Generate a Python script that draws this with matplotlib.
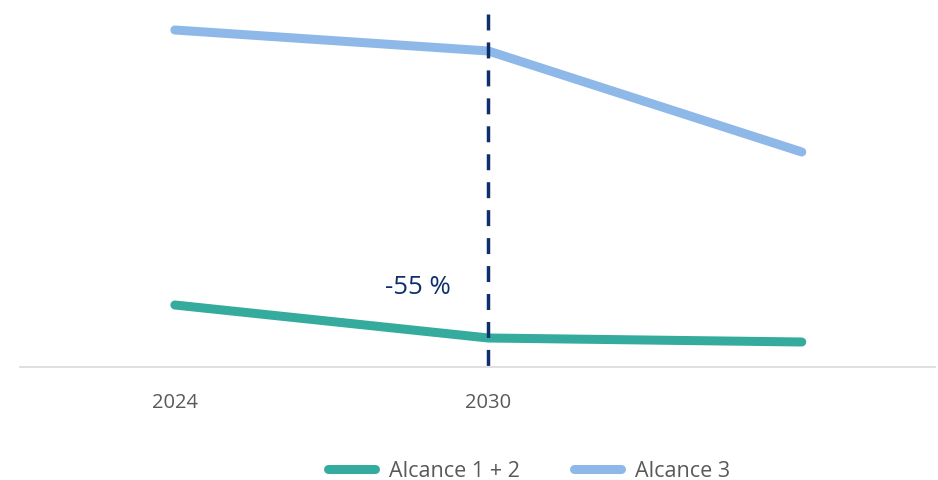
"""Emissions trajectory chart: Alcance 1 + 2 vs Alcance 3."""

import matplotlib
matplotlib.use("Agg")
import matplotlib.pyplot as plt

plt.rcParams['font.family'] = ['Open Sans', 'DejaVu Sans']

# Data (relative units)
years = ["2024", "2030", ""]
alcance_12 = [62, 29, 25]
alcance_3 = [337, 316, 215]
reduction_label = "-55 %"

TEAL = "#35AB9E"
LIGHT_BLUE = "#8DB8E8"
NAVY = "#0E2F6B"
GREY_TEXT = "#595959"

fig = plt.figure(figsize=(9.38, 4.81), dpi=100)
ax = fig.add_axes([20 / 938, 1 - 368 / 481, 915 / 938, 368 / 481])

x = list(range(len(years)))
ax.plot(x, alcance_12, color=TEAL, lw=6.5, solid_capstyle='round',
        label="Alcance 1 + 2", clip_on=False, zorder=3)
ax.plot(x, alcance_3, color=LIGHT_BLUE, lw=6.5, solid_capstyle='round',
        label="Alcance 3", clip_on=False, zorder=3)

# Dashed marker at 2030 (drawn top-down so the pattern starts at the top)
ax.plot([1, 1], [353, 1], color=NAVY, lw=2.5, linestyle=(0, (4.6, 3.45)),
        solid_capstyle='butt', dash_capstyle='butt', clip_on=False, zorder=4)
ax.text(0.775, 80, reduction_label, color=NAVY, fontsize=18.5,
        ha='center', va='center')

ax.set_xlim(-0.494, 2.425)
ax.set_ylim(0, 368)
ax.set_xticks([0, 1])
ax.set_xticklabels(years[:2], color=GREY_TEXT, fontsize=14.5)
ax.tick_params(axis='x', length=0, pad=18)
ax.set_yticks([])
for side in ['top', 'left', 'right']:
    ax.spines[side].set_visible(False)
ax.spines['bottom'].set_color("#D9D9D9")
ax.spines['bottom'].set_linewidth(1.2)

leg = fig.legend(loc='center', bbox_to_anchor=(529 / 938, 1 - 472 / 481),
                 ncol=2, frameon=False, fontsize=15.5, handlelength=2.2,
                 handletextpad=0.65, columnspacing=2.5)
for txt in leg.get_texts():
    txt.set_color(GREY_TEXT)

fig.savefig("out.png", dpi=100)
